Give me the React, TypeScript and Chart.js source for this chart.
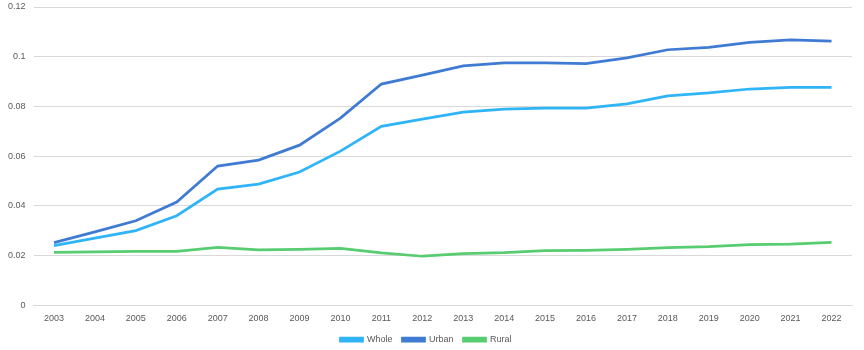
import React, { useEffect, useRef } from "react";
import { Chart, registerables } from "chart.js";

Chart.register(...registerables);

const years = ["2003","2004","2005","2006","2007","2008","2009","2010","2011","2012","2013","2014","2015","2016","2017","2018","2019","2020","2021","2022"];
const whole = [0.024,0.027,0.030,0.036,0.0467,0.0487,0.0536,0.062,0.072,0.0749,0.0777,0.0789,0.0793,0.0793,0.081,0.0842,0.0854,0.087,0.0877,0.0877];
const urban = [0.0252,0.0295,0.034,0.0415,0.056,0.0584,0.0644,0.0753,0.089,0.0926,0.0963,0.0975,0.0975,0.0972,0.0995,0.1028,0.1038,0.1058,0.1068,0.1063];
const rural = [0.0213,0.0215,0.0217,0.0217,0.0233,0.0223,0.0225,0.0229,0.0211,0.0197,0.0208,0.0212,0.022,0.0221,0.0225,0.0232,0.0236,0.0244,0.0246,0.0253];
const yTicks = [0, 0.02, 0.04, 0.06, 0.08, 0.1, 0.12];

export default function App() {
  const ref = useRef<HTMLCanvasElement>(null);
  useEffect(() => {
    document.body.style.margin = "0";
    const font = { family: "'Liberation Sans', Arial, sans-serif", size: 9 };
    const chart = new Chart(ref.current!, {
      type: "line",
      data: {
        labels: years,
        datasets: [
          { label: "Whole", data: whole, borderColor: "#30B4F8", backgroundColor: "#30B4F8", borderWidth: 2.75, pointRadius: 0, tension: 0 },
          { label: "Urban", data: urban, borderColor: "#407BD3", backgroundColor: "#407BD3", borderWidth: 2.75, pointRadius: 0, tension: 0 },
          { label: "Rural", data: rural, borderColor: "#58CC70", backgroundColor: "#58CC70", borderWidth: 2.75, pointRadius: 0, tension: 0 },
        ],
      },
      options: {
        animation: false,
        responsive: false,
        layout: { padding: { left: 0, right: 12, top: 0, bottom: -4 } },
        plugins: {
          tooltip: { enabled: false },
          legend: {
            position: "bottom",
            labels: { boxWidth: 22, boxHeight: 3, color: "#595959", font, padding: 10 },
          },
        },
        scales: {
          x: {
            offset: true,
            grid: { display: false, drawTicks: false },
            border: { display: true, color: "#d9d9d9" },
            ticks: { color: "#595959", font, padding: 8, maxRotation: 0, autoSkip: false },
            afterFit: (axis: any) => { axis.height -= 7; },
          },
          y: {
            min: 0,
            max: 0.12,
            afterBuildTicks: (axis: any) => { axis.ticks = yTicks.map((v) => ({ value: v })); },
            afterFit: (axis: any) => { axis.paddingTop = 7; axis.paddingBottom = 7; },
            grid: { color: "#d9d9d9", drawTicks: false },
            border: { display: false },
            ticks: { color: "#595959", font, padding: 8, callback: (v: any) => String(Number(v)) },
          },
        },
      },
    });
    return () => chart.destroy();
  }, []);
  return <canvas ref={ref} width={864} height={350} style={{ display: "block" }} />;
}
